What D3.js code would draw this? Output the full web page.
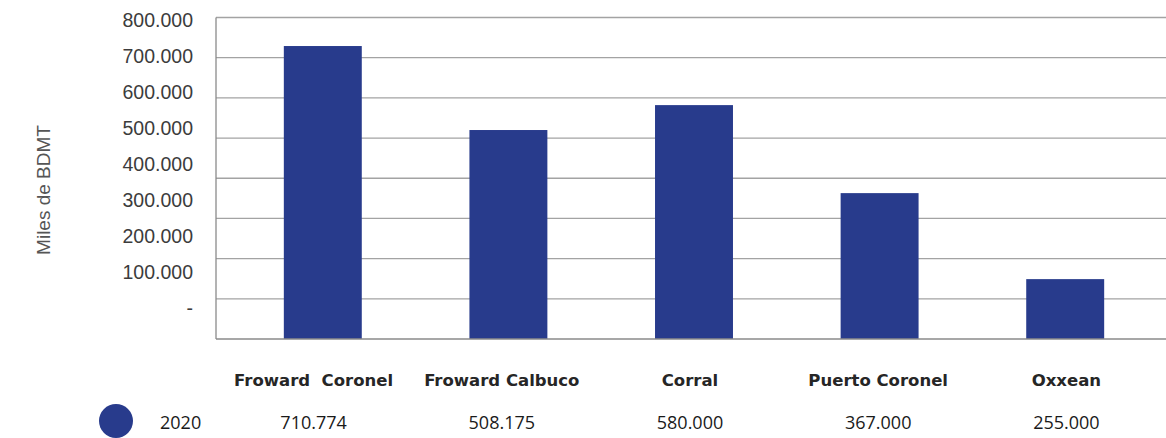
<!DOCTYPE html>
<html>
<head>
<meta charset="utf-8">
<script src="https://cdn.jsdelivr.net/npm/d3@7"></script>
<style>
  html, body { margin: 0; padding: 0; background: #ffffff; }
  svg { display: block; }
</style>
</head>
<body>
<svg id="chart" width="1166" height="438"></svg>
<script>
// ---- Data ----
const categories = ["Froward  Coronel", "Froward Calbuco", "Corral", "Puerto Coronel", "Oxxean"];
const barValues = [729000, 520000, 582000, 363000, 149000];   // bar heights as drawn
const tableLabels = ["710.774", "508.175", "580.000", "367.000", "255.000"];
const seriesName = "2020";
const yTickValues = [0, 100000, 200000, 300000, 400000, 500000, 600000, 700000, 800000];
const yTickLabels = ["-", "100.000", "200.000", "300.000", "400.000", "500.000", "600.000", "700.000", "800.000"];
const yTitle = "Miles de BDMT";

// ---- Layout ----
const svg = d3.select("#chart");
const plotLeft = 216, plotRight = 1166, plotTop = 17.5, plotBottom = 339;
const barColor = "#283b8c";

const y = d3.scaleLinear().domain([0, 800000]).range([plotBottom, plotTop]);
const yLabelScale = d3.scaleLinear().domain([0, 800000]).range([308, 20]);

const x = d3.scaleBand().domain(categories).range([230, 1158])
  .paddingInner(0.58).paddingOuter(0.29);
const xTable = d3.scalePoint().domain(categories).range([313.6, 1066.4]);

// gridlines
svg.append("g").selectAll("line")
  .data(yTickValues.filter(v => v > 0))
  .join("line")
  .attr("x1", plotLeft).attr("x2", plotRight)
  .attr("y1", d => y(d)).attr("y2", d => y(d))
  .attr("stroke", "#a3a3a3").attr("stroke-width", 1.3);

// bars
svg.append("g").selectAll("rect")
  .data(categories)
  .join("rect")
  .attr("x", d => x(d))
  .attr("width", x.bandwidth())
  .attr("y", (d, i) => y(barValues[i]))
  .attr("height", (d, i) => y(0) - y(barValues[i]))
  .attr("fill", barColor);

// axes lines
svg.append("line")
  .attr("x1", plotLeft).attr("x2", plotRight)
  .attr("y1", y(0)).attr("y2", y(0))
  .attr("stroke", "#8a8a8a").attr("stroke-width", 1.3);
svg.append("line")
  .attr("x1", plotLeft).attr("x2", plotLeft)
  .attr("y1", y(800000)).attr("y2", y(0))
  .attr("stroke", "#8a8a8a").attr("stroke-width", 1.3);

// y tick labels
svg.append("g").selectAll("text")
  .data(yTickValues)
  .join("text")
  .attr("x", 193)
  .attr("y", d => yLabelScale(d))
  .attr("dy", "0.35em")
  .attr("text-anchor", "end")
  .attr("font-family", "Liberation Sans, Arial, sans-serif")
  .attr("font-size", 19.5)
  .attr("fill", "#3c3c3c")
  .text((d, i) => yTickLabels[i]);

// y title
svg.append("text")
  .attr("transform", "translate(50,190) rotate(-90)")
  .attr("text-anchor", "middle")
  .attr("font-family", "Liberation Sans, Arial, sans-serif")
  .attr("font-size", 19)
  .attr("fill", "#555555")
  .text(yTitle);

// table: category labels
svg.append("g").selectAll("text")
  .data(categories)
  .join("text")
  .attr("x", d => xTable(d))
  .attr("y", 386)
  .attr("text-anchor", "middle")
  .attr("font-family", "DejaVu Sans, sans-serif")
  .attr("font-weight", 700)
  .attr("font-size", 16.5)
  .attr("fill", "#262626")
  .style("white-space", "pre")
  .attr("xml:space", "preserve")
  .text(d => d);

// legend marker + series name
svg.append("circle")
  .attr("cx", 116).attr("cy", 421).attr("r", 17)
  .attr("fill", barColor);
svg.append("text")
  .attr("x", 160).attr("y", 429)
  .attr("font-family", "Open Sans, sans-serif")
  .attr("font-size", 18)
  .attr("fill", "#1a1a1a")
  .text(seriesName);

// table: values
svg.append("g").selectAll("text")
  .data(categories)
  .join("text")
  .attr("x", d => xTable(d))
  .attr("y", 429)
  .attr("text-anchor", "middle")
  .attr("font-family", "Open Sans, sans-serif")
  .attr("font-size", 18)
  .attr("fill", "#1a1a1a")
  .text((d, i) => tableLabels[i]);
</script>
</body>
</html>
